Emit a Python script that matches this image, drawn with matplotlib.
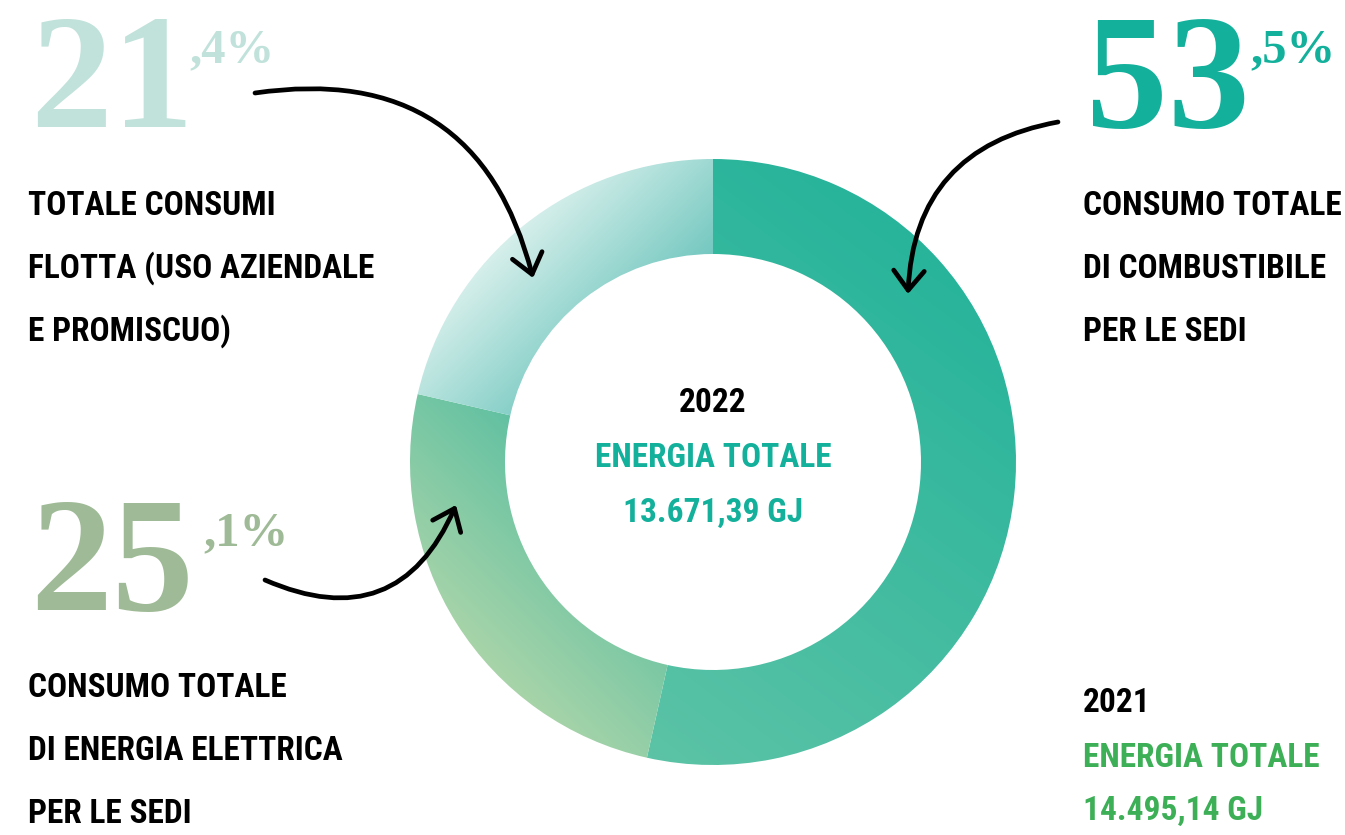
import numpy as np
import matplotlib
matplotlib.use("Agg")
import matplotlib.pyplot as plt
from matplotlib.patches import Wedge, FancyArrowPatch
from matplotlib.colors import LinearSegmentedColormap

# ── Data ──
shares = [53.5, 25.1, 21.4]
big_num = ["53", "25", "21"]
small_num = [",5%", ",1%", ",4%"]
num_colors = ["#13b09b", "#9fba96", "#c1e2da"]
labels = [
    ["CONSUMO TOTALE", "DI COMBUSTIBILE", "PER LE SEDI"],
    ["CONSUMO TOTALE", "DI ENERGIA ELETTRICA", "PER LE SEDI"],
    ["TOTALE CONSUMI", "FLOTTA (USO AZIENDALE", "E PROMISCUO)"],
]
# gradient endpoints (light, dark) per segment
grad_colors = [("#5cc3a6", "#27b49b"), ("#a8d4a9", "#62c1a2"), ("#d6efeb", "#74c8c0")]
year_now = "2022"
total_now = "13.671,39 GJ"
year_prev = "2021"
total_prev = "14.495,14 GJ"

NARROW = ["Roboto Condensed", "Liberation Sans Narrow", "Roboto", "DejaVu Sans"]
SERIF = ["Liberation Serif", "DejaVu Serif"]
FS = 24
CAP = FS * 100 / 72 * 0.711 / 2  # half cap height in px, to place baselines from line centres

fig = plt.figure(figsize=(13.45, 8.35), dpi=100)
ax = fig.add_axes([0, 0, 1, 1])
ax.set_xlim(0, 1345)
ax.set_ylim(835, 0)
ax.axis("off")

# ── Donut with gradients ──
cx, cy, r_out, r_in = 713, 462, 303, 208
n = 700
yy, xx = np.mgrid[cy - r_out:cy + r_out:n * 1j, cx - r_out:cx + r_out:n * 1j]
ang = np.degrees(np.arctan2(yy - cy, xx - cx))  # screen angles, clockwise (y points down)
rad = np.hypot(xx - cx, yy - cy)
start = -90.0
# gradient direction per segment (screen coords, from light to dark)
dirs = [(0.6, -0.8), (0.7, -0.7), (0.7, 0.7)]
for share, (c_light, c_dark), d in zip(shares, grad_colors, dirs):
    sweep = share / 100 * 360
    w = Wedge((cx, cy), r_out, start, start + sweep, width=r_out - r_in,
              facecolor="none", edgecolor="none")
    ax.add_patch(w)
    a = (ang - start) % 360
    inside = (a <= sweep) & (rad >= r_in) & (rad <= r_out)
    t = (xx - cx) * d[0] + (yy - cy) * d[1]
    t = np.clip((t - t[inside].min()) / (t[inside].max() - t[inside].min()), 0, 1)
    cmap = LinearSegmentedColormap.from_list("g", [c_light, c_dark])
    im = ax.imshow(t, cmap=cmap, extent=(cx - r_out, cx + r_out, cy + r_out, cy - r_out),
                   interpolation="bilinear", zorder=1)
    im.set_clip_path(w)
    start += sweep

# ── Big percentages ──
num_pos = [(1086, 127), (30, 610), (30, 127)]
small_pos = [(1250, 62), (203, 545), (189, 62)]
for i in range(3):
    ax.text(*num_pos[i], big_num[i], color=num_colors[i], fontsize=118, fontweight="bold",
            family=SERIF, ha="left", va="baseline")
    ax.text(*small_pos[i], small_num[i], color=num_colors[i],
            fontsize=35, fontweight="bold", family=SERIF, ha="left", va="baseline")

# ── Labels ──
label_pos = [(1083, 203), (28, 685), (28, 203)]
for i in range(3):
    x, y = label_pos[i]
    for j, line in enumerate(labels[i]):
        ax.text(x, y + j * 63 + CAP, line, color="black", fontsize=FS, family=NARROW,
                fontweight="bold", ha="left", va="baseline")

# ── Center text ──
ax.text(cx, 400 + CAP, year_now, color="black", fontsize=FS, family=NARROW,
        fontweight="bold", ha="center", va="baseline")
ax.text(cx, 455 + CAP, "ENERGIA TOTALE", color="#13b09b", fontsize=FS, family=NARROW,
        fontweight="bold", ha="center", va="baseline")
ax.text(cx, 510 + CAP, total_now, color="#13b09b", fontsize=FS, family=NARROW,
        fontweight="bold", ha="center", va="baseline")

# ── 2021 total ──
ax.text(1083, 700 + CAP, year_prev, color="black", fontsize=FS, family=NARROW,
        fontweight="bold", ha="left", va="baseline")
ax.text(1083, 755 + CAP, "ENERGIA TOTALE", color="#3daf57", fontsize=FS, family=NARROW,
        fontweight="bold", ha="left", va="baseline")
ax.text(1083, 808 + CAP, total_prev, color="#3daf57", fontsize=FS, family=NARROW,
        fontweight="bold", ha="left", va="baseline")

# ── Hand-drawn arrows ──
arrow_kw = dict(arrowstyle="->,head_length=14,head_width=11", color="black",
                lw=3.4, capstyle="round", joinstyle="round", zorder=5, shrinkA=0, shrinkB=0)
ax.add_patch(FancyArrowPatch((255, 93), (533, 278), connectionstyle="arc3,rad=-0.45", **arrow_kw))
ax.add_patch(FancyArrowPatch((1058, 122), (908, 294), connectionstyle="arc3,rad=0.4", **arrow_kw))
ax.add_patch(FancyArrowPatch((265, 580), (456, 505), connectionstyle="arc3,rad=0.5", **arrow_kw))

fig.savefig("out.png", dpi=100)
